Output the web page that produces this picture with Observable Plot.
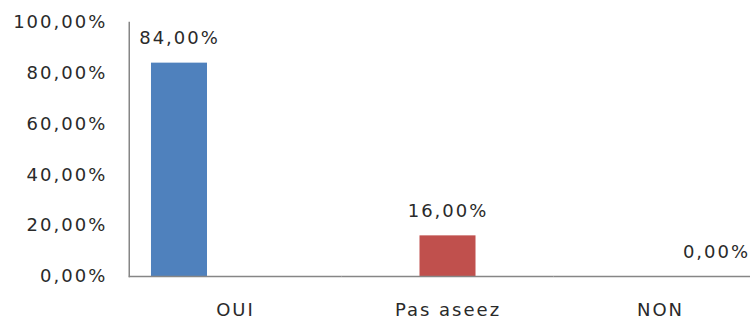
<!DOCTYPE html>
<html>
<head>
<meta charset="utf-8">
<script src="https://cdn.jsdelivr.net/npm/d3@7"></script>
<script src="https://cdn.jsdelivr.net/npm/@observablehq/plot@0.6"></script>
<style>
  html, body { margin: 0; padding: 0; background: #fff; }
  #chart { width: 750px; height: 324px; overflow: hidden; }
  #chart svg { letter-spacing: 2px; max-width: none !important; }
</style>
</head>
<body>
<div id="chart"></div>
<script>
// Survey answers and their shares (percent)
const categories = ["OUI", "Pas aseez", "NON"];
const values = [84, 16, 0];
const seriesColors = ["#4F81BD", "#C0504D", "#9BBB59"];
const yTicks = [0, 20, 40, 60, 80, 100];

// Each answer is its own series, so it sits in its own slot within the group
const rows = categories.map((c, i) => ({category: c, series: c, value: values[i]}));

const pct = v => v.toFixed(2).replace(".", ",") + "%";

const chart = Plot.plot({
  width: 768,
  height: 324,
  marginLeft: 128,
  marginRight: 0,
  marginTop: 22,
  marginBottom: 48,
  style: {fontFamily: "DejaVu Sans", fontSize: "18px", color: "#2a2a2a", background: "#fff"},
  fx: {domain: categories, padding: 0, round: false, range: [128.75, 766.25],
       label: null, tickSize: 0, tickPadding: 27},
  x: {domain: categories, axis: null, round: false, paddingInner: 0, paddingOuter: 0.397},
  y: {domain: [0, 100], range: [276, 22], ticks: yTicks, tickFormat: pct, label: null,
      tickSize: 0, tickPadding: 22},
  color: {domain: categories, range: seriesColors},
  marks: [
    Plot.barY(rows, {fx: "category", x: "series", y: "value", fill: "series"}),
    Plot.ruleY([0], {stroke: "#868686", strokeWidth: 1.5}),
    Plot.frame({anchor: "left", facetAnchor: "left", stroke: "#868686", strokeWidth: 1.5}),
    Plot.text(rows, {fx: "category", x: "series", y: "value", text: d => pct(d.value),
      lineAnchor: "bottom", dy: -19, fill: "#2a2a2a"})
  ]
});

document.getElementById("chart").appendChild(chart);
</script>
</body>
</html>
